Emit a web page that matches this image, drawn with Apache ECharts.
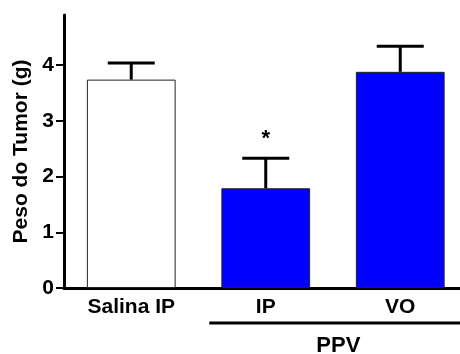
<!DOCTYPE html>
<html>
<head>
<meta charset="utf-8">
<script src="https://cdn.jsdelivr.net/npm/echarts@6/dist/echarts.min.js"></script>
<style>html,body{margin:0;padding:0;background:#fff;}#c{width:460px;height:354px;}</style>
</head>
<body>
<div id="c"></div>
<script>
const categories = ['Salina IP', 'IP', 'VO'];
const means = [3.74, 1.79, 3.88];
const sems = [0.30, 0.54, 0.46];
const annotations = ['', '*', ''];
const yTicks = [0, 1, 2, 3, 4];
const groupLabel = 'PPV';
const groupRange = [1, 2];
const barColors = ['#ffffff', '#0000ff', '#0000ff'];

const FONT = 'Liberation Sans, Arial, sans-serif';
const chart = echarts.init(document.getElementById('c'), null, {renderer: 'canvas'});

const option = {
  animation: false,
  grid: {left: 64, top: 15, right: -7.5, bottom: 66, containLabel: false, outerBoundsMode: 'none'},
  xAxis: {
    type: 'category',
    data: categories,
    axisLine: {lineStyle: {color: '#000', width: 3}},
    axisTick: {show: false},
    axisLabel: {color: '#000', fontSize: 21, fontWeight: 'bold', fontFamily: FONT, margin: 9, interval: 0}
  },
  yAxis: {
    type: 'value',
    min: 0, max: 4.9, interval: 1,
    name: 'Peso do Tumor (g)',
    nameLocation: 'middle',
    nameRotate: 90,
    nameGap: 30,
    nameTextStyle: {color: '#000', fontSize: 21, fontWeight: 'bold', fontFamily: FONT},
    axisLine: {show: true, lineStyle: {color: '#000', width: 3}},
    axisTick: {show: true, length: 8, lineStyle: {color: '#000', width: 2}, customValues: yTicks},
    axisLabel: {color: '#000', fontSize: 21, fontWeight: 'bold', fontFamily: FONT, margin: 10, customValues: yTicks},
    splitLine: {show: false}
  },
  series: [
    {
      type: 'bar',
      barWidth: '66%',
      data: means.map((v, i) => ({value: v, itemStyle: {color: barColors[i], borderColor: '#222', borderWidth: 1}})),
      z: 2
    },
    {
      type: 'custom',
      z: 3,
      clip: false,
      data: means.map((m, i) => [i, m, sems[i], annotations[i]]),
      renderItem: function (params, api) {
        const i = api.value(0), m = api.value(1), e = api.value(2);
        const ann = annotations[i];
        const base = api.coord([i, m]);
        const top = api.coord([i, m + e]);
        const hw = 23.5;
        const children = [
          {type: 'line', shape: {x1: base[0], y1: base[1], x2: top[0], y2: top[1]}, style: {stroke: '#000', lineWidth: 3}},
          {type: 'line', shape: {x1: top[0] - hw, y1: top[1], x2: top[0] + hw, y2: top[1]}, style: {stroke: '#000', lineWidth: 3}}
        ];
        if (ann) {
          children.push({type: 'text', style: {text: ann, x: top[0], y: top[1] - 19, align: 'center', verticalAlign: 'middle', font: 'bold 22px ' + FONT, fill: '#000'}});
        }
        return {type: 'group', children: children};
      }
    },
    {
      type: 'custom',
      z: 3,
      clip: false,
      data: [[groupRange[0], groupRange[1]]],
      renderItem: function (params, api) {
        const a = api.coord([api.value(0), 0]);
        const b = api.coord([api.value(1), 0]);
        const band = api.size([1, 0])[0];
        const x1 = a[0] - 0.42 * band, x2 = b[0] + 0.5 * band;
        const y = a[1] + 35;
        return {type: 'group', children: [
          {type: 'line', shape: {x1: x1, y1: y, x2: x2, y2: y}, style: {stroke: '#000', lineWidth: 3}},
          {type: 'text', style: {text: groupLabel, x: (x1 + x2) / 2, y: y + 12, align: 'center', verticalAlign: 'top', font: 'bold 22px ' + FONT, fill: '#000'}}
        ]};
      }
    }
  ]
};
chart.setOption(option);
</script>
</body>
</html>
